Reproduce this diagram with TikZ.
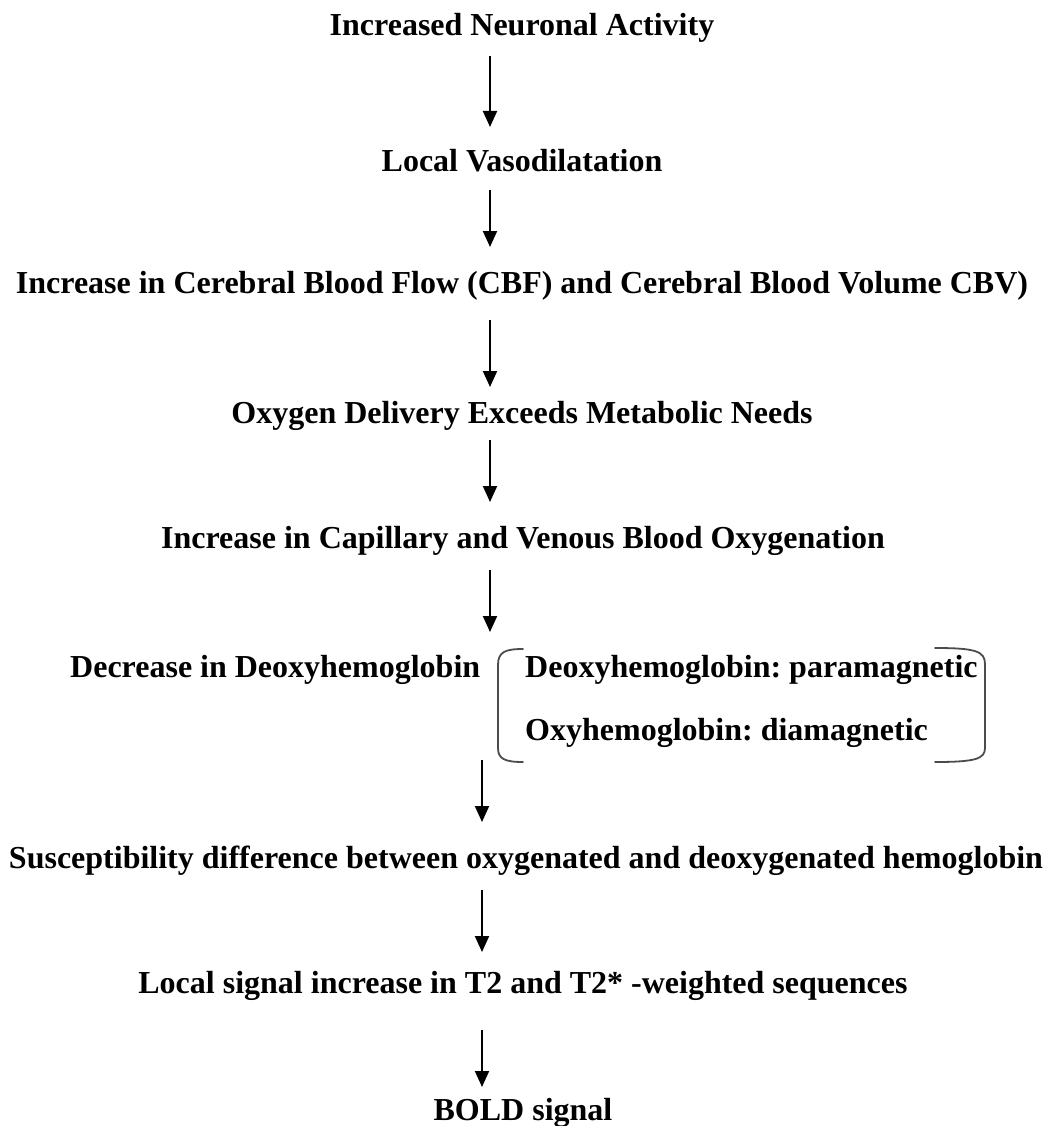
\documentclass[tikz,border=0pt]{standalone}
\usepackage{fontspec}
\setmainfont{Liberation Serif}
\usetikzlibrary{arrows.meta}
\frenchspacing
\tikzset{
  steptext/.style={font=\fontsize{32}{36}\selectfont\bfseries, inner sep=0pt, yshift=-3pt},
  flow/.style={line width=2pt, -{Triangle[length=16pt,width=14pt]}},
  brack/.style={line width=1.8pt, draw=black!70, line cap=round}
}
\begin{document}
\begin{tikzpicture}[x=1pt,y=-1pt]
\useasboundingbox (0,0) rectangle (1049,1126);
\node[steptext] (n1) at (522,25) {Increased Neuronal Activity};
\node[steptext] (n2) at (522,158) {Local Vasodilatation};
\node[steptext] (n3) at (522,283) {Increase in Cerebral Blood Flow (CBF) and Cerebral Blood Volume CBV)};
\node[steptext] (n4) at (522,413) {Oxygen Delivery Exceeds Metabolic Needs};
\node[steptext] (n5) at (523,538) {Increase in Capillary and Venous Blood Oxygenation};
\node[steptext, anchor=west] (n6) at (70,667) {Decrease in Deoxyhemoglobin};
\node[steptext, anchor=west] (d1) at (525,667) {Deoxyhemoglobin: paramagnetic};
\node[steptext, anchor=west] (d2) at (525,730) {Oxyhemoglobin: diamagnetic};
\node[steptext] (n7) at (526,858) {Susceptibility difference between oxygenated and deoxygenated hemoglobin};
\node[steptext] (n8) at (523,983) {Local signal increase in T2 and T2* -weighted sequences};
\node[steptext] (n9) at (523,1110) {BOLD signal};

% brackets around the two magnetic properties
\draw[brack] (523,649) .. controls (505,649) and (498,652) .. (498,665)
  -- (498,748) .. controls (498,759) and (505,762) .. (523,762);
\draw[brack] (935,648) .. controls (975,648) and (985,651) .. (985,664)
  -- (985,748) .. controls (985,759) and (975,762) .. (935,762);

% connectors between the steps
\coordinate (a1s) at (490,56);   \coordinate (a1e) at (490,127);
\coordinate (a2s) at (490,190);  \coordinate (a2e) at (490,247);
\coordinate (a3s) at (490,320);  \coordinate (a3e) at (490,387);
\coordinate (a4s) at (490,440);  \coordinate (a4e) at (490,502);
\coordinate (a5s) at (490,570);  \coordinate (a5e) at (490,632);
\coordinate (a6s) at (482,760);  \coordinate (a6e) at (482,822);
\coordinate (a7s) at (482,890);  \coordinate (a7e) at (482,952);
\coordinate (a8s) at (482,1030); \coordinate (a8e) at (482,1087);
\foreach \i in {1,...,8} \draw[flow] (a\i s) -- (a\i e);
\end{tikzpicture}
\end{document}
